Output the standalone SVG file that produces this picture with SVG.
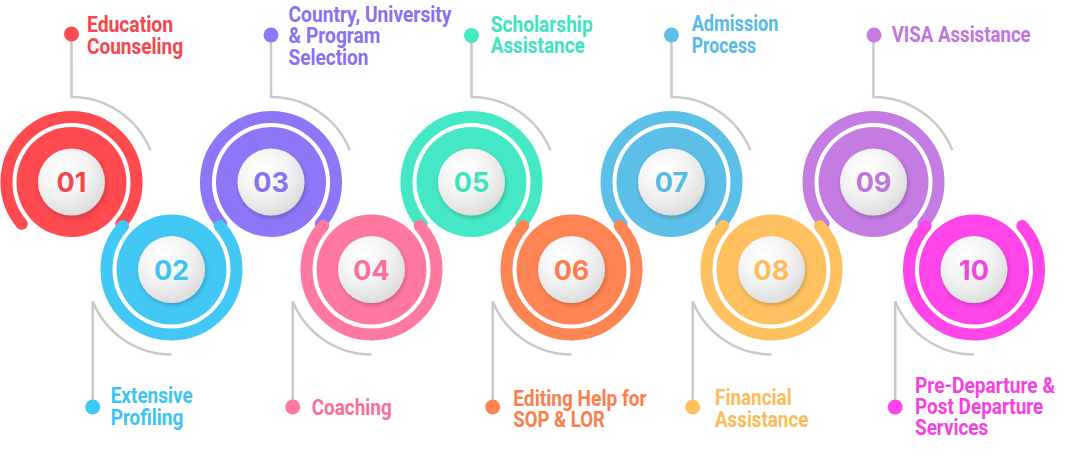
<svg xmlns="http://www.w3.org/2000/svg" width="1069" height="456" viewBox="0 0 1069 456">
<style>
.ring{fill:none;stroke-width:12;stroke-linecap:round}
.face{fill:url(#face);filter:url(#sh)}
.num{font-family:Inter,"DejaVu Sans",sans-serif;font-weight:700;font-size:27px;text-anchor:middle}
.lbl{font-family:Roboto,"Liberation Sans",sans-serif;font-weight:700;font-size:22px}
.conn path{fill:none;stroke:#c9c9c9;stroke-width:2.5}
</style>
<defs>
<radialGradient id="face" cx="38%" cy="32%" r="75%">
<stop offset="0" stop-color="#ffffff"/>
<stop offset="0.5" stop-color="#f3f3f3"/>
<stop offset="1" stop-color="#d9d9d9"/>
</radialGradient>
<filter id="sh" x="-30%" y="-30%" width="160%" height="160%">
<feDropShadow dx="1" dy="2" stdDeviation="2" flood-color="#000" flood-opacity="0.22"/>
</filter>
</defs>
<rect width="1069" height="456" fill="#fff"/>
<g id="connectors" class="conn">
<path d="M71.5,35 V97 A85 85 0 0 1 150.31,150.16"/>
<path d="M271,35 V97 A85 85 0 0 1 349.81,150.16"/>
<path d="M471.5,35 V97 A85 85 0 0 1 550.31,150.16"/>
<path d="M671.5,35 V97 A85 85 0 0 1 750.31,150.16"/>
<path d="M873.5,35 V97 A85 85 0 0 1 952.31,150.16"/>
<path d="M92.69,407 V301.34 A85 85 0 0 0 171.5,354.5"/>
<path d="M292.69,407 V301.34 A85 85 0 0 0 371.5,354.5"/>
<path d="M492.69,407 V301.34 A85 85 0 0 0 571.5,354.5"/>
<path d="M692.69,407 V301.34 A85 85 0 0 0 771.5,354.5"/>
<path d="M895.19,407 V301.34 A85 85 0 0 0 974,354.5"/>
</g>
<g id="node01">
<path class="ring" stroke="#FF4A50" d="M21.71,223.78 A65 65 0 1 1 121.29,223.78"/>
<circle cx="71.5" cy="182" r="55" fill="#FF4A50"/>
<circle class="face" cx="71.5" cy="182" r="33.5"/>
<text class="num" x="71.5" y="192" fill="#F6454C">01</text>
<circle cx="71.5" cy="34" r="7.5" fill="#FF4A50"/>
<text class="lbl" fill="#F6454C"><tspan x="87" y="31.5" textLength="86" lengthAdjust="spacingAndGlyphs">Education</tspan><tspan x="87" y="53.5" textLength="96" lengthAdjust="spacingAndGlyphs">Counseling</tspan></text>
</g>
<g id="node03">
<path class="ring" stroke="#8F76F8" d="M221.21,223.78 A65 65 0 1 1 320.79,223.78"/>
<circle cx="271" cy="182" r="55" fill="#8F76F8"/>
<circle class="face" cx="271" cy="182" r="33.5"/>
<text class="num" x="271" y="192" fill="#8A70F2">03</text>
<circle cx="271" cy="35" r="7.5" fill="#8F76F8"/>
<text class="lbl" fill="#8A70F2"><tspan x="288.5" y="21.5" textLength="163" lengthAdjust="spacingAndGlyphs">Country, University</tspan><tspan x="288.5" y="43" textLength="92" lengthAdjust="spacingAndGlyphs">&amp; Program</tspan><tspan x="288.5" y="65" textLength="80" lengthAdjust="spacingAndGlyphs">Selection</tspan></text>
</g>
<g id="node05">
<path class="ring" stroke="#45E8C5" d="M421.71,223.78 A65 65 0 1 1 521.29,223.78"/>
<circle cx="471.5" cy="182" r="55" fill="#45E8C5"/>
<circle class="face" cx="471.5" cy="182" r="33.5"/>
<text class="num" x="471.5" y="192" fill="#3FE3C0">05</text>
<circle cx="471.5" cy="35.5" r="7.5" fill="#45E8C5"/>
<text class="lbl" fill="#3FE3C0"><tspan x="490.7" y="31.5" textLength="102" lengthAdjust="spacingAndGlyphs">Scholarship</tspan><tspan x="490.7" y="53.3" textLength="94" lengthAdjust="spacingAndGlyphs">Assistance</tspan></text>
</g>
<g id="node07">
<path class="ring" stroke="#5CBFE8" d="M621.71,223.78 A65 65 0 1 1 721.29,223.78"/>
<circle cx="671.5" cy="182" r="55" fill="#5CBFE8"/>
<circle class="face" cx="671.5" cy="182" r="33.5"/>
<text class="num" x="671.5" y="192" fill="#56BBE6">07</text>
<circle cx="671.5" cy="35" r="7.5" fill="#5CBFE8"/>
<text class="lbl" fill="#56BBE6"><tspan x="691.7" y="30.5" textLength="86.7" lengthAdjust="spacingAndGlyphs">Admission</tspan><tspan x="691.7" y="53" textLength="64.3" lengthAdjust="spacingAndGlyphs">Process</tspan></text>
</g>
<g id="node09">
<path class="ring" stroke="#C47BE2" d="M823.71,223.78 A65 65 0 1 1 923.29,223.78"/>
<circle cx="873.5" cy="182" r="55" fill="#C47BE2"/>
<circle class="face" cx="873.5" cy="182" r="33.5"/>
<text class="num" x="873.5" y="192" fill="#C075DE">09</text>
<circle cx="874" cy="35" r="7.5" fill="#C47BE2"/>
<text class="lbl" fill="#C075DE"><tspan x="891.7" y="41.7" textLength="139" lengthAdjust="spacingAndGlyphs">VISA Assistance</tspan></text>
</g>
<g id="node02">
<path class="ring" stroke="#42C8F5" d="M219.8,226 A65 65 0 1 1 123.2,226"/>
<circle cx="171.5" cy="269.5" r="55" fill="#42C8F5"/>
<circle class="face" cx="171.5" cy="269.5" r="33.5"/>
<text class="num" x="171.5" y="279.5" fill="#3EC4F2">02</text>
<circle cx="92.69" cy="407" r="7.5" fill="#42C8F5"/>
<text class="lbl" fill="#3EC4F2"><tspan x="110.7" y="402.7" textLength="82" lengthAdjust="spacingAndGlyphs">Extensive</tspan><tspan x="110.7" y="425" textLength="72.6" lengthAdjust="spacingAndGlyphs">Profiling</tspan></text>
</g>
<g id="node04">
<path class="ring" stroke="#FF78A0" d="M419.8,226 A65 65 0 1 1 323.2,226"/>
<circle cx="371.5" cy="269.5" r="55" fill="#FF78A0"/>
<circle class="face" cx="371.5" cy="269.5" r="33.5"/>
<text class="num" x="371.5" y="279.5" fill="#FC6F99">04</text>
<circle cx="292.69" cy="407" r="7.5" fill="#FF78A0"/>
<text class="lbl" fill="#FC6F99"><tspan x="311.7" y="415" textLength="80" lengthAdjust="spacingAndGlyphs">Coaching</tspan></text>
</g>
<g id="node06">
<path class="ring" stroke="#FF8453" d="M619.8,226 A65 65 0 1 1 523.2,226"/>
<circle cx="571.5" cy="269.5" r="55" fill="#FF8453"/>
<circle class="face" cx="571.5" cy="269.5" r="33.5"/>
<text class="num" x="571.5" y="279.5" fill="#FC7E4C">06</text>
<circle cx="492.69" cy="407" r="7.5" fill="#FF8453"/>
<text class="lbl" fill="#FC7E4C"><tspan x="513.3" y="406" textLength="133.3" lengthAdjust="spacingAndGlyphs">Editing Help for</tspan><tspan x="513.3" y="427.3" textLength="91.7" lengthAdjust="spacingAndGlyphs">SOP &amp; LOR</tspan></text>
</g>
<g id="node08">
<path class="ring" stroke="#FFC160" d="M819.8,226 A65 65 0 1 1 723.2,226"/>
<circle cx="771.5" cy="269.5" r="55" fill="#FFC160"/>
<circle class="face" cx="771.5" cy="269.5" r="33.5"/>
<text class="num" x="771.5" y="279.5" fill="#FDBC58">08</text>
<circle cx="692.69" cy="407" r="7.5" fill="#FFC160"/>
<text class="lbl" fill="#FDBC58"><tspan x="715" y="405" textLength="76.7" lengthAdjust="spacingAndGlyphs">Financial</tspan><tspan x="715" y="426.7" textLength="93.3" lengthAdjust="spacingAndGlyphs">Assistance</tspan></text>
</g>
<g id="node10">
<path class="ring" stroke="#FF45E8" d="M1022.3,226 A65 65 0 1 1 925.7,226"/>
<circle cx="974" cy="269.5" r="55" fill="#FF45E8"/>
<circle class="face" cx="974" cy="269.5" r="33.5"/>
<text class="num" x="974" y="279.5" fill="#F83FE2">10</text>
<circle cx="895.19" cy="407" r="7.5" fill="#FF45E8"/>
<text class="lbl" fill="#F83FE2"><tspan x="915" y="392.5" textLength="140" lengthAdjust="spacingAndGlyphs">Pre-Departure &amp;</tspan><tspan x="915" y="413.5" textLength="128.3" lengthAdjust="spacingAndGlyphs">Post Departure</tspan><tspan x="915" y="435" textLength="73.3" lengthAdjust="spacingAndGlyphs">Services</tspan></text>
</g>
</svg>
